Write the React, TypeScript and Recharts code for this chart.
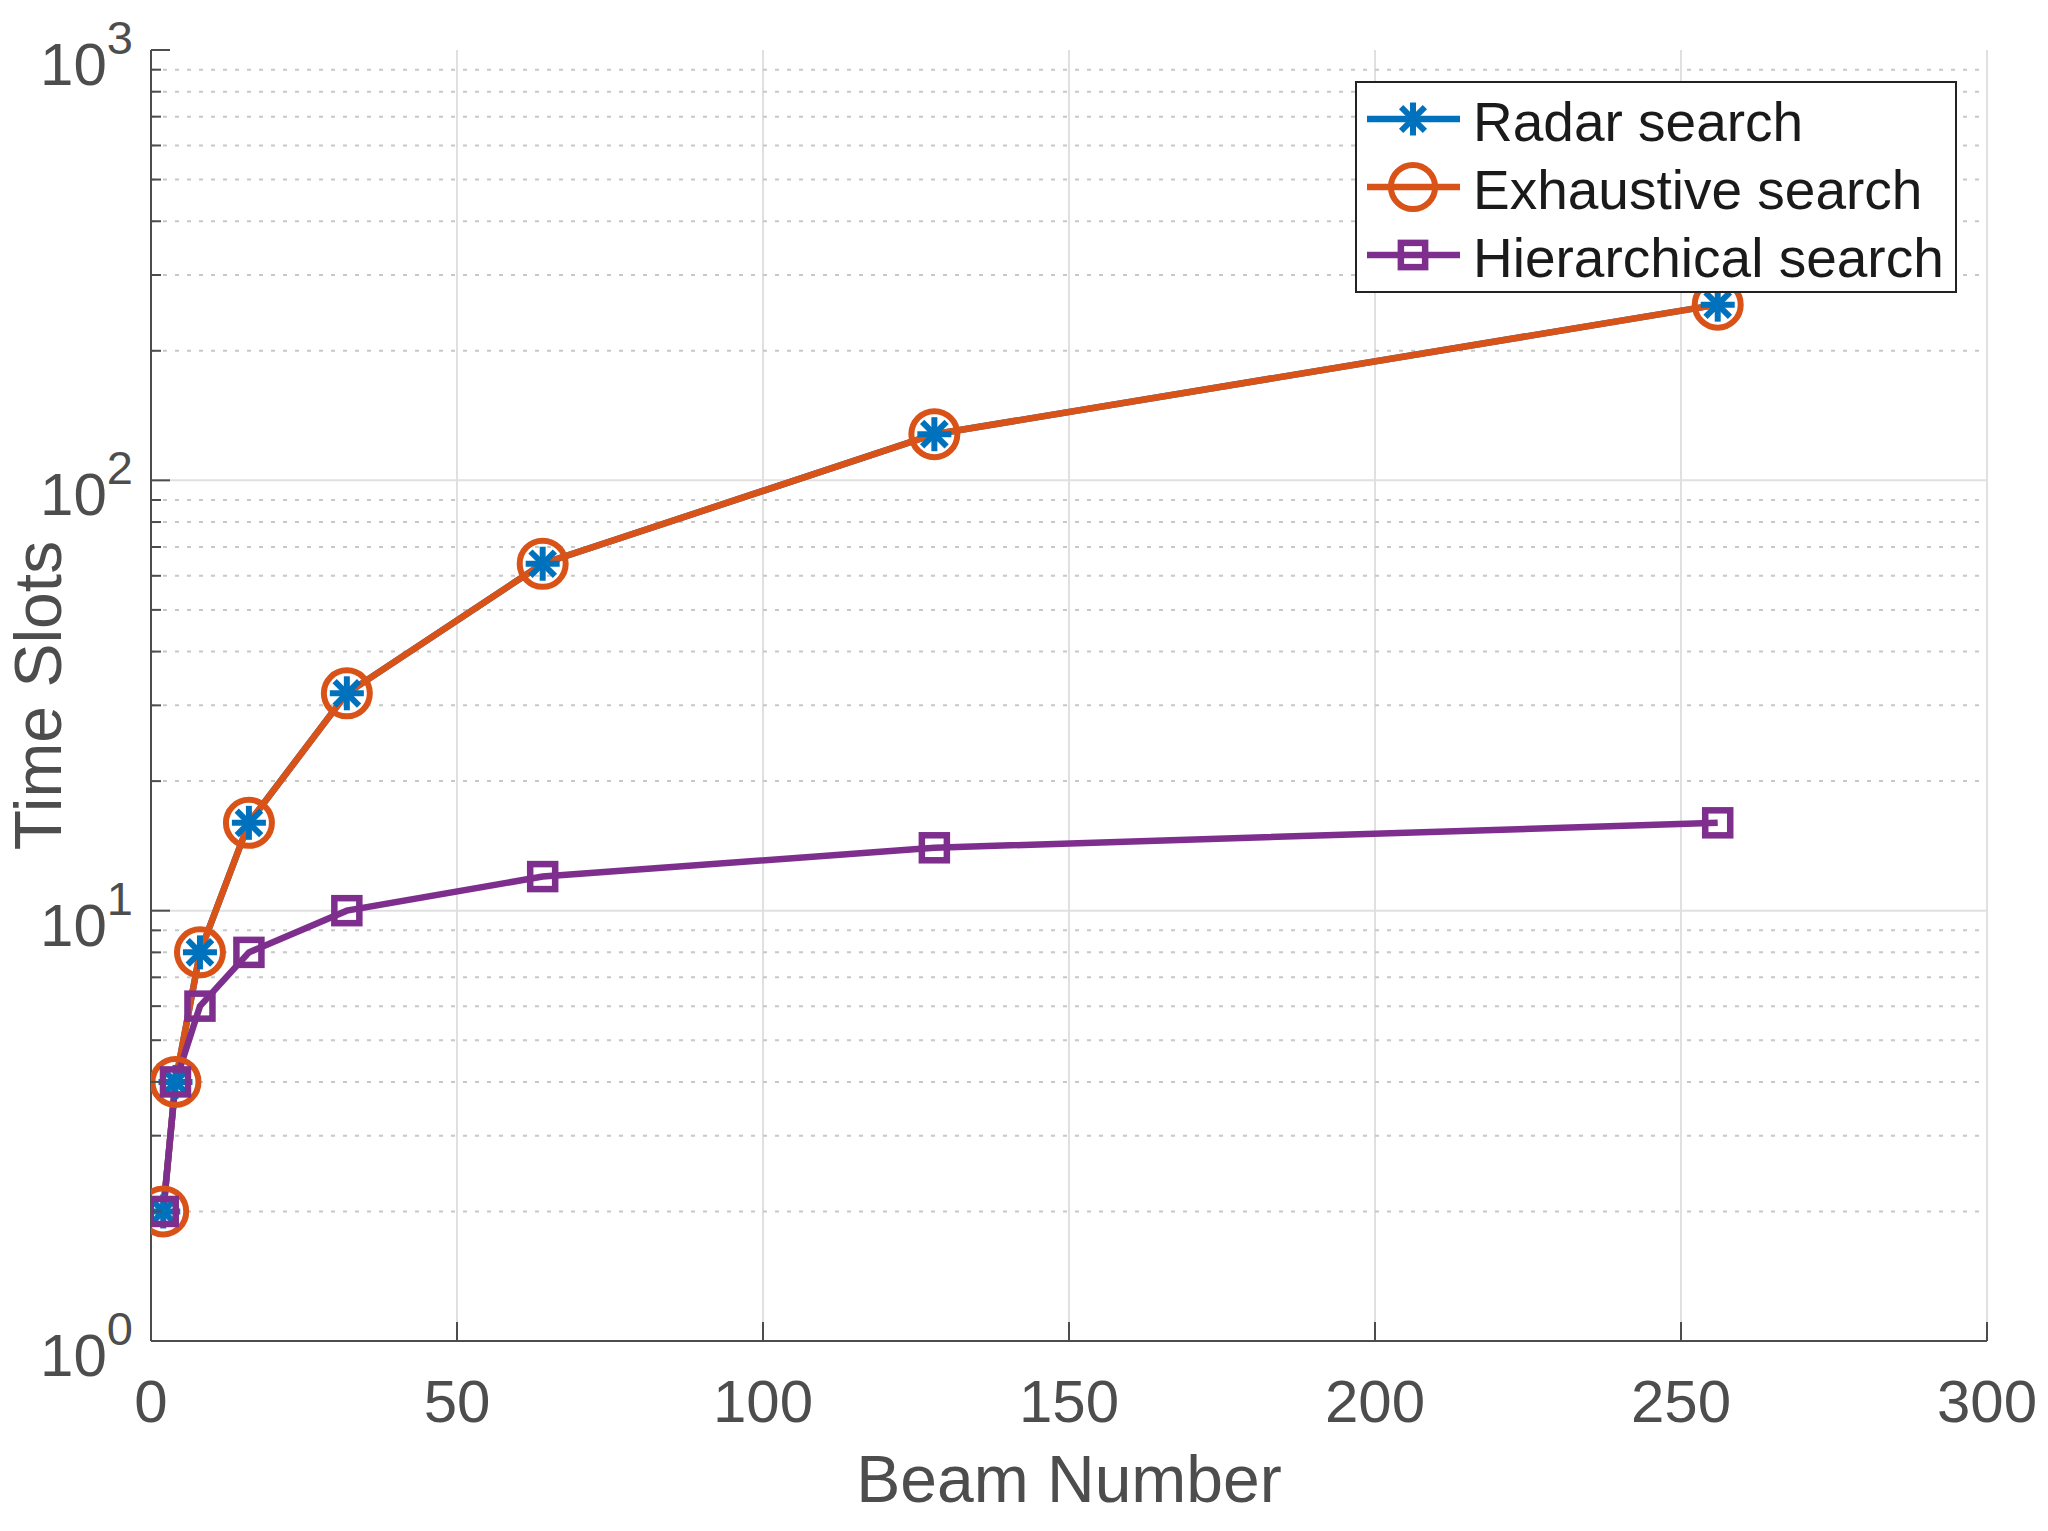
import { LineChart, Line, XAxis, YAxis, CartesianGrid, ReferenceLine, Legend } from "recharts";

const beams = [2, 4, 8, 16, 32, 64, 128, 256];
const radarSlots = [2, 4, 8, 16, 32, 64, 128, 256];
const exhaustiveSlots = [2, 4, 8, 16, 32, 64, 128, 256];
const hierarchicalSlots = [2, 4, 6, 8, 10, 12, 14, 16];

const xTicks = [0, 50, 100, 150, 200, 250, 300];
const yMajorTicks = [1, 10, 100, 1000];
const yMinorTicks = [2, 3, 4, 5, 6, 7, 8, 9, 20, 30, 40, 50, 60, 70, 80, 90, 200, 300, 400, 500, 600, 700, 800, 900];
const yAllTicks = [...yMajorTicks, ...yMinorTicks].sort((a, b) => a - b);

const series = [
  { key: "radar", name: "Radar search", color: "#0072BD", marker: "star" },
  { key: "exhaustive", name: "Exhaustive search", color: "#D95319", marker: "circle" },
  { key: "hierarchical", name: "Hierarchical search", color: "#7E2F8E", marker: "square" },
];

const data = beams.map((b, i) => ({
  beam: b,
  radar: radarSlots[i],
  exhaustive: exhaustiveSlots[i],
  hierarchical: hierarchicalSlots[i],
}));

const FONT = "'Liberation Sans', Arial, Helvetica, sans-serif";
const AXIS = "#4d4d4d";
const MAJOR_LEN = 19;
const MINOR_LEN = 10;
const LINE_W = 6.5;

function Marker({ type, cx, cy, color, size = 1 }: any) {
  if (cx == null || cy == null) return null;
  if (type === "star") {
    const r = 17 * size;
    const d = r * 0.72;
    return (
      <g stroke={color} strokeWidth={6}>
        <line x1={cx} y1={cy - r} x2={cx} y2={cy + r} />
        <line x1={cx - r} y1={cy} x2={cx + r} y2={cy} />
        <line x1={cx - d} y1={cy - d} x2={cx + d} y2={cy + d} />
        <line x1={cx - d} y1={cy + d} x2={cx + d} y2={cy - d} />
      </g>
    );
  }
  if (type === "circle") {
    return <circle cx={cx} cy={cy} r={23 * size} fill="none" stroke={color} strokeWidth={6} />;
  }
  const h = 12.5 * size;
  return <rect x={cx - h} y={cy - h} width={2 * h} height={2 * h} fill="none" stroke={color} strokeWidth={6.5} />;
}

function LeftTick({ x, y, payload }: any) {
  const v = payload.value;
  const major = yMajorTicks.includes(v);
  const ax = x + 18;
  return (
    <g>
      <line x1={ax} x2={ax + (major ? MAJOR_LEN : MINOR_LEN)} y1={y} y2={y} stroke={AXIS} strokeWidth={2} />
      {major && (
        <text x={x} y={y + 35} textAnchor="end" fill={AXIS} fontSize={60} fontFamily={FONT}>
          10
          <tspan dy={-31} fontSize={47}>
            {Math.round(Math.log10(v))}
          </tspan>
        </text>
      )}
    </g>
  );
}

function RightTick({ x, y, payload }: any) {
  const major = yMajorTicks.includes(payload.value);
  return <line x1={x} x2={x - (major ? MAJOR_LEN : MINOR_LEN)} y1={y} y2={y} stroke={AXIS} strokeWidth={2} />;
}

function BottomTick({ x, y, payload }: any) {
  return (
    <g>
      <line x1={x} x2={x} y1={y} y2={y - MAJOR_LEN} stroke={AXIS} strokeWidth={2} />
      <text x={x} y={y + 81} textAnchor="middle" fill={AXIS} fontSize={60} fontFamily={FONT}>
        {payload.value}
      </text>
    </g>
  );
}

function TopTick({ x, y }: any) {
  return <line x1={x} x2={x} y1={y} y2={y + MAJOR_LEN} stroke={AXIS} strokeWidth={2} />;
}

function LegendBox() {
  return (
    <div
      style={{
        width: 602,
        height: 212,
        boxSizing: "border-box",
        border: "2px solid #222",
        background: "#fff",
        paddingTop: 2,
        fontFamily: FONT,
      }}
    >
      {series.map((s) => (
        <div key={s.key} style={{ height: 68, display: "flex", alignItems: "center" }}>
          <svg width={116} height={60} style={{ flexShrink: 0 }}>
            <line x1={10} x2={103} y1={30} y2={30} stroke={s.color} strokeWidth={LINE_W} />
            <Marker type={s.marker} cx={56} cy={30} color={s.color} size={s.marker === "circle" ? 0.96 : 0.97} />
          </svg>
          <span
            style={{
              display: "inline-block",
              position: "relative",
              top: 3,
              fontSize: 55,
              color: "#1a1a1a",
              whiteSpace: "nowrap",
              lineHeight: 1,
            }}
          >
            {s.name}
          </span>
        </div>
      ))}
    </div>
  );
}

export default function App() {
  return (
    <div style={{ position: "absolute", left: 0, top: 0, background: "#fff" }}>
      <LineChart width={2048} height={1531} data={data} margin={{ top: 50, right: 61, bottom: 0, left: 0 }}>
        <CartesianGrid horizontal={false} stroke="#e0e0e0" strokeWidth={2} />
        {yMinorTicks.map((v) => (
          <ReferenceLine key={`m${v}`} y={v} stroke="#c8c8c8" strokeWidth={2} strokeDasharray="4 8" />
        ))}
        {[10, 100].map((v) => (
          <ReferenceLine key={`M${v}`} y={v} stroke="#e0e0e0" strokeWidth={2} />
        ))}
        <XAxis
          dataKey="beam"
          type="number"
          domain={[0, 300]}
          ticks={xTicks}
          interval={0}
          allowDataOverflow
          height={190}
          tickLine={false}
          tickSize={0}
          tickMargin={0}
          tick={<BottomTick />}
          axisLine={{ stroke: AXIS, strokeWidth: 2 }}
          label={{
            content: ({ viewBox }: any) => (
              <text
                x={viewBox.x + viewBox.width / 2}
                y={viewBox.y + 161}
                textAnchor="middle"
                fill={AXIS}
                fontSize={66}
                fontFamily={FONT}
              >
                Beam Number
              </text>
            ),
          }}
        />
        <XAxis
          xAxisId="top"
          orientation="top"
          type="number"
          domain={[0, 300]}
          ticks={xTicks}
          interval={0}
          allowDataOverflow
          height={0}
          tickLine={false}
          tickSize={0}
          tickMargin={0}
          tick={<TopTick />}
          axisLine={{ stroke: AXIS, strokeWidth: 2 }}
        />
        <YAxis
          scale="log"
          domain={[1, 1000]}
          ticks={yAllTicks}
          interval={0}
          allowDataOverflow
          width={151}
          tickLine={false}
          tickSize={0}
          tickMargin={18}
          tick={<LeftTick />}
          axisLine={{ stroke: AXIS, strokeWidth: 2 }}
          label={{
            content: ({ viewBox }: any) => {
              const cx = viewBox.x + 61;
              const cy = viewBox.y + viewBox.height / 2;
              return (
                <text
                  x={cx}
                  y={cy}
                  transform={`rotate(-90, ${cx}, ${cy})`}
                  textAnchor="middle"
                  fill={AXIS}
                  fontSize={66}
                  fontFamily={FONT}
                >
                  Time Slots
                </text>
              );
            },
          }}
        />
        <YAxis
          yAxisId="right"
          orientation="right"
          scale="log"
          domain={[1, 1000]}
          ticks={yAllTicks}
          interval={0}
          allowDataOverflow
          width={0}
          tickLine={false}
          tickSize={0}
          tickMargin={0}
          tick={<RightTick />}
          axisLine={{ stroke: AXIS, strokeWidth: 2 }}
        />
        {series.map((s) => (
          <Line
            key={s.key}
            type="linear"
            dataKey={s.key}
            name={s.name}
            stroke={s.color}
            strokeWidth={LINE_W}
            isAnimationActive={false}
            activeDot={false}
            dot={(p: any) => <Marker key={`${s.key}-${p.index}`} type={s.marker} cx={p.cx} cy={p.cy} color={s.color} />}
          />
        ))}
        <Legend
          layout="vertical"
          align="center"
          verticalAlign="middle"
          content={<LegendBox />}
          wrapperStyle={{ position: "absolute", left: 1355, top: 81, width: 602, height: 212 }}
        />
      </LineChart>
    </div>
  );
}
